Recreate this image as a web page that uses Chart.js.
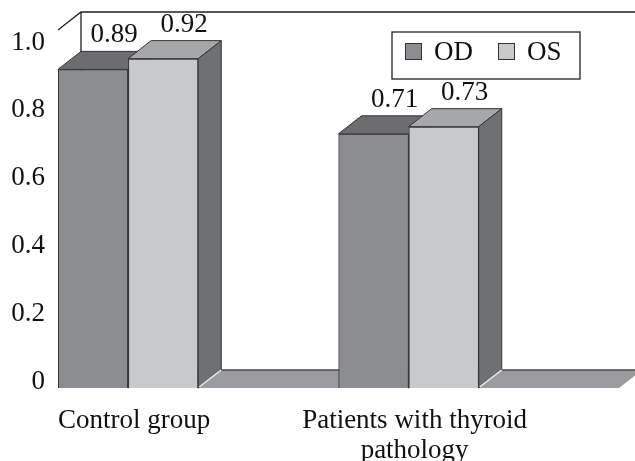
<!DOCTYPE html>
<html>
<head>
<meta charset="utf-8">
<script src="https://cdn.jsdelivr.net/npm/chart.js@4.4.1/dist/chart.umd.min.js"></script>
<style>
  html, body { margin: 0; padding: 0; background: #fff; }
</style>
</head>
<body>
<canvas id="chart" width="635" height="461"></canvas>
<script>
// data
const categories = [['Control group'], ['Patients with thyroid', 'pathology']];
const seriesNames = ['OD', 'OS'];
const odValues = [0.89, 0.71];
const osValues = [0.92, 0.73];
const yTickValues = [0, 0.2, 0.4, 0.6, 0.8, 1.0];
const yTickLabels = ['0', '0.2', '0.4', '0.6', '0.8', '1.0'];

const FONT = '"Liberation Serif", "Times New Roman", serif';
const FONT_SIZE = 27;
const DX = 23, DY = -18;   // depth of the 3d boxes

const faces = [
    { front: '#8c8d91', top: '#6c6d71', side: '#5f6064' },   // OD
    { front: '#c8c9cb', top: '#a6a7aa', side: '#6f7074' }    // OS
];

function poly(ctx, pts, fill, stroke) {
    ctx.beginPath();
    ctx.moveTo(pts[0][0], pts[0][1]);
    for (let i = 1; i < pts.length; i++) ctx.lineTo(pts[i][0], pts[i][1]);
    ctx.closePath();
    ctx.fillStyle = fill;
    ctx.fill();
    if (stroke) {
        ctx.strokeStyle = stroke;
        ctx.lineWidth = 1;
        ctx.stroke();
    }
}

// floor, walls, 3d faces, value labels and the boxed legend
const box3d = {
    id: 'box3d',
    beforeDatasetsDraw(chart) {
        const ctx = chart.ctx;
        const { left, right, top, bottom } = chart.chartArea;
        ctx.save();
        // floor
        poly(ctx, [[left, bottom], [right, bottom], [right + DX, bottom + DY], [left + DX, bottom + DY]], '#9a9b9e');
        ctx.strokeStyle = '#4a4a4c';
        ctx.lineWidth = 1.5;
        ctx.beginPath();
        ctx.moveTo(left + DX, bottom + DY);
        ctx.lineTo(right + DX, bottom + DY);
        ctx.stroke();
        // back wall outline
        ctx.strokeStyle = '#222';
        ctx.lineWidth = 1.3;
        ctx.beginPath();
        ctx.moveTo(left, top);
        ctx.lineTo(left + DX, top + DY);
        ctx.lineTo(chart.width + 10, top + DY);
        ctx.moveTo(left + DX, top + DY);
        ctx.lineTo(left + DX, bottom + DY);
        ctx.stroke();
        ctx.restore();
    },
    afterDatasetsDraw(chart) {
        const ctx = chart.ctx;
        const bars = [];
        chart.data.datasets.forEach((ds, d) => {
            chart.getDatasetMeta(d).data.forEach((el, i) => {
                bars.push({ el, d, v: ds.data[i].y });
            });
        });
        bars.sort((a, b) => a.el.x - b.el.x);
        ctx.save();
        bars.forEach(b => {
            const { x, y, width, base } = b.el.getProps(['x', 'y', 'width', 'base'], true);
            const l = x - width / 2, r = x + width / 2;
            const f = faces[b.d];
            b.el.draw(ctx);
            poly(ctx, [[l, y], [r, y], [r + DX, y + DY], [l + DX, y + DY]], f.top, '#333');
            poly(ctx, [[r, y], [r + DX, y + DY], [r + DX, base + DY], [r, base]], f.side, '#333');
            // light seam where the side meets the floor
            ctx.strokeStyle = '#f4f4f4';
            ctx.lineWidth = 1.5;
            ctx.beginPath();
            ctx.moveTo(r + 1, base - 1);
            ctx.lineTo(r + DX, base + DY);
            ctx.stroke();
        });
        // value labels above the back edge of each box
        ctx.fillStyle = '#111';
        ctx.font = FONT_SIZE + 'px ' + FONT;
        ctx.textAlign = 'center';
        ctx.textBaseline = 'alphabetic';
        bars.forEach(b => {
            const { x, y } = b.el.getProps(['x', 'y'], true);
            ctx.fillText(b.v.toFixed(2), x + DX - 2, y + DY - 9);
        });
        ctx.restore();
    },
    afterDraw(chart) {
        const ctx = chart.ctx;
        const area = chart.chartArea;
        const boxW = 188, boxH = 47;
        const bx = area.right - 39 - boxW, by = 32;
        ctx.save();
        ctx.fillStyle = '#fff';
        ctx.fillRect(bx, by, boxW, boxH);
        ctx.strokeStyle = '#222';
        ctx.lineWidth = 1.3;
        ctx.strokeRect(bx, by, boxW, boxH);
        ctx.font = FONT_SIZE + 'px ' + FONT;
        ctx.textBaseline = 'middle';
        ctx.textAlign = 'left';
        let cx = bx + 13;
        chart.data.datasets.forEach((ds, d) => {
            ctx.fillStyle = faces[d].front;
            ctx.fillRect(cx, by + 11, 17, 17);
            ctx.strokeStyle = '#333';
            ctx.lineWidth = 1;
            ctx.strokeRect(cx + 0.5, by + 11.5, 16, 16);
            ctx.fillStyle = '#111';
            ctx.fillText(ds.label, cx + 29, by + 21);
            cx += 93;
        });
        ctx.restore();
    }
};

const ctx = document.getElementById('chart');
new Chart(ctx, {
    type: 'bar',
    data: {
        datasets: [
            {
                label: seriesNames[0],
                data: odValues.map((v, i) => ({ x: i, y: v })),
                backgroundColor: faces[0].front,
                borderColor: '#333',
                borderWidth: 1
            },
            {
                label: seriesNames[1],
                data: osValues.map((v, i) => ({ x: i, y: v })),
                backgroundColor: faces[1].front,
                borderColor: '#333',
                borderWidth: 1
            }
        ]
    },
    options: {
        responsive: false,
        animation: false,
        devicePixelRatio: 1,
        layout: { padding: { top: 30, right: 16, left: 0, bottom: 0 } },
        datasets: { bar: { categoryPercentage: 0.5, barPercentage: 1 } },
        plugins: {
            legend: { display: false },
            tooltip: { enabled: false }
        },
        scales: {
            x: {
                type: 'linear',
                min: -0.25,
                max: 1.75,
                offset: false,
                bounds: 'data',
                grid: { display: false, drawTicks: false, offset: false },
                border: { display: false },
                afterBuildTicks: s => { s.ticks = categories.map((c, i) => ({ value: i })); },
                afterFit: s => { s.height = 73; },
                ticks: {
                    callback: (v, i) => categories[i],
                    font: { family: FONT, size: FONT_SIZE, lineHeight: 1.1 },
                    color: '#111',
                    padding: 18,
                    labelOffset: 6,
                    maxRotation: 0,
                    autoSkip: false
                }
            },
            y: { min: 0, max: 1, display: false },
            // the tick labels of the 3d chart sit slightly off the front plane
            yLabels: {
                position: 'left',
                min: -0.0177,
                max: 1.0368,
                grid: { display: false, drawTicks: false },
                border: { display: false },
                afterBuildTicks: s => { s.ticks = yTickValues.map(v => ({ value: v })); },
                afterFit: s => { s.width = 58; },
                ticks: {
                    callback: (v, i) => yTickLabels[i],
                    font: { family: FONT, size: FONT_SIZE },
                    color: '#111',
                    padding: 13
                }
            }
        }
    },
    plugins: [box3d]
});
</script>
</body>
</html>
